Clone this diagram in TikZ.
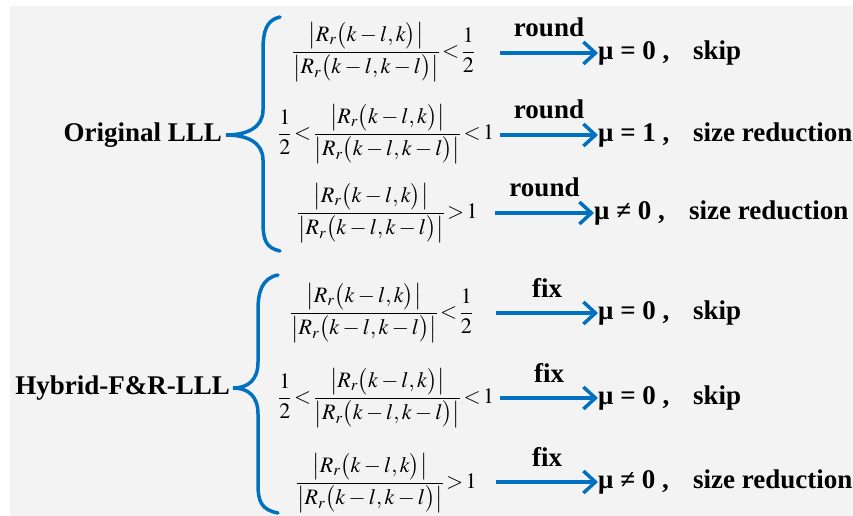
\documentclass[tikz,border=0pt]{standalone}
\usepackage{mathptmx}
\usepackage{fontspec}
\setmainfont{Liberation Serif}
\usetikzlibrary{arrows.meta}
\definecolor{bggray}{HTML}{F3F3F3}
\definecolor{lllblue}{HTML}{0070C0}
\tikzset{
	grp/.style={font=\fontsize{27}{31}\selectfont\bfseries, anchor=east, inner sep=0pt},
	cnd/.style={font=\fontsize{22}{26}\selectfont, anchor=west, inner sep=0pt},
	res/.style={font=\fontsize{27}{31}\selectfont\bfseries, anchor=west, inner sep=0pt},
	tag/.style={font=\fontsize{27}{31}\selectfont\bfseries, above=14pt, inner sep=0pt},
	arr/.style={draw=lllblue, line width=3.5pt, -{Straight Barb[length=12pt,width=22pt]}},
	brc/.style={draw=lllblue, line width=3.5pt, line cap=round}
}
\newcommand{\lllsp}{\thickmuskip=2mu\relax}
\newcommand{\lllratio}{\displaystyle\frac{\bigl|R_r\bigl(k-l,k\bigr)\bigr|}{\bigl|R_r\bigl(k-l,k-l\bigr)\bigr|}}
\newcommand{\lllres}[2]{\makebox[95pt][l]{#1}#2}
\begin{document}
\begin{tikzpicture}[x=1pt,y=-1pt]
	% Background:
	\fill[bggray] (10,6) rectangle (853,516);
	\useasboundingbox (0,0) rectangle (853,516);
	% Groups and braces:
	\node[grp] (orig) at (222,135) {Original LLL};
	\node[grp] (hyb) at (230,388) {Hybrid-F\&R-LLL};
	\draw[brc] (280,17) .. controls (266,20) and (263,32) .. (263,50) -- (263,110) .. controls (263,127) and (248,135) .. (226,135) .. controls (248,135) and (263,143) .. (263,160) -- (263,222) .. controls (263,240) and (266,248) .. (280,251);
	\draw[brc] (278,275) .. controls (262,278) and (258,292) .. (258,310) -- (258,362) .. controls (258,380) and (248,388) .. (233,388) .. controls (248,388) and (258,396) .. (258,414) -- (258,485) .. controls (258,502) and (262,510) .. (278,513);
	% Conditions:
	\node[cnd] (c1) at (292,52) {$\lllsp\lllratio<\frac{1}{2}$};
	\node[cnd] (c2) at (278,134) {$\lllsp\displaystyle\frac{1}{2}<\lllratio<1$};
	\node[cnd] (c3) at (297,213) {$\lllsp\lllratio>1$};
	\node[cnd] (c4) at (290,313) {$\lllsp\lllratio<\frac{1}{2}$};
	\node[cnd] (c5) at (278,398) {$\lllsp\displaystyle\frac{1}{2}<\lllratio<1$};
	\node[cnd] (c6) at (296,483) {$\lllsp\lllratio>1$};
	% Results:
	\node[res] (r1) at (598,53) {\lllres{μ = 0 ,}{skip}};
	\node[res] (r2) at (598,135) {\lllres{μ = 1 ,}{size reduction}};
	\node[res] (r3) at (594,213) {\lllres{μ ≠ 0 ,}{size reduction}};
	\node[res] (r4) at (598,313) {\lllres{μ = 0 ,}{skip}};
	\node[res] (r5) at (598,398) {\lllres{μ = 0 ,}{skip}};
	\node[res] (r6) at (598,482) {\lllres{μ ≠ 0 ,}{size reduction}};
	% Arrows:
	\coordinate (a1) at (500,53);
	\coordinate (a2) at (500,135);
	\coordinate (a3) at (495,213);
	\coordinate (a4) at (496,313);
	\coordinate (a5) at (500,398);
	\coordinate (a6) at (496,482);
	\draw[arr] (a1) -- (r1.west) node[midway, tag] {round};
	\draw[arr] (a2) -- (r2.west) node[midway, tag] {round};
	\draw[arr] (a3) -- (r3.west) node[midway, tag] {round};
	\draw[arr] (a4) -- (r4.west) node[midway, tag] {fix};
	\draw[arr] (a5) -- (r5.west) node[midway, tag] {fix};
	\draw[arr] (a6) -- (r6.west) node[midway, tag] {fix};
\end{tikzpicture}
\end{document}
